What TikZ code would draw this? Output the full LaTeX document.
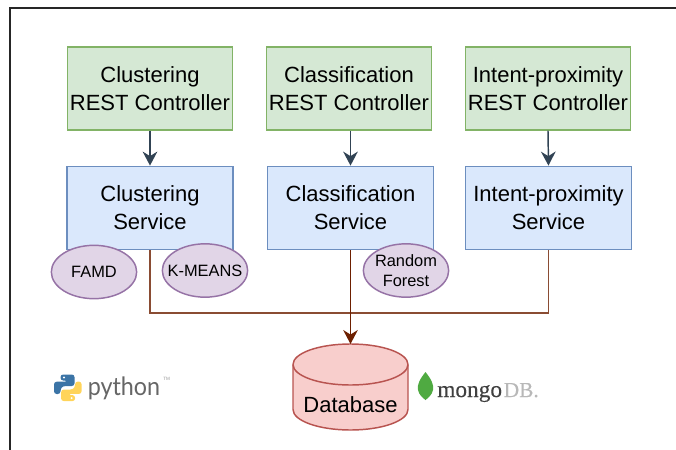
\documentclass[tikz,border=0pt]{standalone}
\usepackage{fontspec}
\setmainfont{Liberation Sans}
\newfontfamily\mongofont[FakeBold=0.3]{Liberation Serif}
\newfontfamily\pythonfont[FakeStretch=0.92]{Lato}
\usetikzlibrary{arrows.meta}
\usetikzlibrary{shapes.geometric}
\definecolor{ctrlfill}{HTML}{D5E8D4}
\definecolor{ctrlline}{HTML}{82B366}
\definecolor{svcfill}{HTML}{DAE8FC}
\definecolor{svcline}{HTML}{6C8EBF}
\definecolor{algofill}{HTML}{E1D5E7}
\definecolor{algoline}{HTML}{9673A6}
\definecolor{dbfill}{HTML}{F8CECC}
\definecolor{dbline}{HTML}{B85450}
\definecolor{callarrow}{HTML}{314354}
\definecolor{dbarrow}{HTML}{6D1F00}
\definecolor{pyblue}{HTML}{3B74A6}
\definecolor{pyyellow}{HTML}{FFD45A}
\definecolor{leafgreen}{HTML}{4FAA41}
\tikzset{
	ctrlbox/.style={draw=ctrlline, fill=ctrlfill, line width=1.1pt, minimum width=123.5pt, minimum height=62pt, inner sep=0pt, align=center, font=\fontsize{16.5}{21}\selectfont, execute at begin node={\rule{0pt}{15.5pt}}},
	svcbox/.style={draw=svcline, fill=svcfill, line width=1.1pt, minimum width=124.5pt, minimum height=62.5pt, inner sep=0pt, align=center, font=\fontsize{16.5}{21}\selectfont, execute at begin node={\rule{0pt}{15.5pt}}},
	algo/.style={ellipse, draw=algoline, fill=algofill, line width=1.1pt, minimum width=64pt, minimum height=40pt, inner sep=-8pt, align=center, font=\fontsize{12.3}{15}\selectfont},
	callline/.style={draw=callarrow, line width=1.1pt, -{Stealth[length=10.5pt,width=11pt]}},
	dbconn/.style={draw=dbarrow!80!white, line width=1.1pt},
	dbshape/.style={draw=dbline, fill=dbfill, line width=1.1pt},
}
\begin{document}
\begin{tikzpicture}[x=0.75pt, y=-0.75pt]
	\useasboundingbox (0,0) rectangle (676,450);
	
	% frame, open on the right and at the bottom
	\draw[line width=1.1pt, color=black!85] (10,450) -- (10,8) -- (676,8);
	
	% controllers
	\node[ctrlbox] (cluctrl) at (150,88.5) {Clustering\\REST Controller};
	\node[ctrlbox] (clactrl) at (349,88.5) {Classification\\REST Controller};
	\node[ctrlbox] (intctrl) at (548,88.5) {Intent-proximity\\REST Controller};
	
	% services
	\node[svcbox] (clusvc) at (150,208) {Clustering\\Service};
	\node[svcbox] (clasvc) at (350.5,208) {Classification\\Service};
	\node[svcbox] (intsvc) at (548.5,208) {Intent-proximity\\Service};
	
	\draw[callline] (cluctrl.south) -- (clusvc.north);
	\draw[callline] (clasvc.north |- clactrl.south) -- (clasvc.north);
	\draw[callline] (intctrl.south) -- (intsvc.north);
	
	% database
	\draw[dbshape] (293,364.5) -- (293,409.5) arc[start angle=180, end angle=0, x radius=57.5, y radius=20.5] -- (408,364.5) arc[start angle=0, end angle=-180, x radius=57.5, y radius=20.5] -- cycle;
	\draw[dbshape, fill=none] (293,364.5) arc[start angle=180, end angle=0, x radius=57.5, y radius=20.5];
	\coordinate (dbtop) at (350.5,344);
	\node[font=\fontsize{16.5}{21}\selectfont, inner sep=0pt] (dbtext) at (350.5,405) {Database};
	\coordinate (busjoin) at (350.5,313);
	
	\draw[dbconn] (clusvc.south) |- (busjoin);
	\draw[dbconn] (intsvc.south) |- (busjoin);
	\draw[dbconn, draw=dbarrow, -{Stealth[length=10.5pt,width=11pt]}] (clasvc.south) -- (dbtop);
	
	% algorithms
	\node[algo] (famd) at (94,272) {FAMD};
	\node[algo] (kmeans) at (205,270.5) {K-MEANS};
	\node[algo] (forest) at (406,270.5) {Random\\Forest};
	
	% python logo
	\foreach \snakecol/\snakeang in {pyblue/0,pyyellow/180}{
		\begin{scope}[rotate around={\snakeang:(67.8,387.8)}]
			\fill[color=\snakecol, rounded corners=2pt] (60.5,380.5) -- (60.5,374.5) -- (74.5,374.5) -- (74.5,386) -- (63,386) -- (60.5,388.5) -- (60.5,394) -- (54,394) -- (54,381.7) -- (67.5,381.7) -- (67.5,380.5) -- cycle;
			\fill[white] (64,377.5) circle (1.1);
		\end{scope}
	}
	\node[anchor=base west, inner sep=0pt, color=black!60, font=\pythonfont\fontsize{19}{20}\selectfont] (pythontext) at (87.5,395) {python};
	\node[anchor=base west, inner sep=0pt, color=black!40, font=\fontsize{3.5}{4}\selectfont] (pythontm) at (163,380) {TM};
	
	% mongodb logo
	\fill[color=leafgreen] (425.5,372) .. controls (431,379) and (434,384) .. (433,390) .. controls (432,395) and (428,398) .. (425.5,400) .. controls (423,398) and (419,395) .. (418,390) .. controls (417,384) and (420,379) .. (425.5,372) -- cycle;
	\node[anchor=base west, inner sep=0pt, color=black!75, font=\mongofont\fontsize{17.5}{20}\selectfont] (mongotext) at (437,397) {mongo};
	\node[anchor=base west, inner sep=0pt, color=black!28, font=\mongofont\fontsize{16}{20}\selectfont] (dbmark) at (503.5,397) {DB.};
\end{tikzpicture}
\end{document}
